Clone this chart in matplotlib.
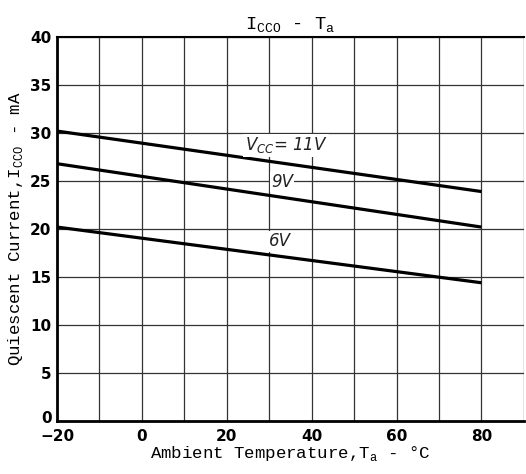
import matplotlib
matplotlib.use("Agg")
import matplotlib.pyplot as plt
import matplotlib.transforms as mtransforms

temps = [-20, 80]
icc_11v = [30.2, 23.9]
icc_9v = [26.8, 20.2]
icc_6v = [20.2, 14.4]
x_ticks = [-20, 0, 20, 40, 60, 80]
y_ticks = [0, 5, 10, 15, 20, 25, 30, 35, 40]

fig = plt.figure(figsize=(5.26, 4.74), dpi=100)
ax = fig.add_axes([0.1084, 0.1118, 0.8876, 0.8102])
ax.set_xlim(-20, 90)
ax.set_ylim(0, 40)

for v in range(-10, 91, 10):
    ax.axvline(v, color="#333333", lw=0.9, zorder=1)
for v in range(5, 41, 5):
    ax.axhline(v, color="#333333", lw=0.9, zorder=1)

for ys in (icc_11v, icc_9v, icc_6v):
    ax.plot(temps, ys, color="black", lw=2.3, zorder=3, solid_capstyle="butt")

lab = dict(fontsize=12, style="italic", family="DejaVu Sans", ha="center", va="center",
           zorder=4, fontweight="light", color="#222222")
ax.text(34, 28.7, r"$V_{CC}$= 11V", bbox=dict(facecolor="white", edgecolor="none", pad=1), **lab)
ax.text(33, 24.9, "9V", bbox=dict(facecolor="white", edgecolor="none", pad=1), **lab)
ax.text(32.5, 18.7, "6V", bbox=dict(facecolor="white", edgecolor="none", pad=1), **lab)

for s in ("left", "bottom"):
    ax.spines[s].set_linewidth(2)
ax.spines["top"].set_linewidth(1.5)
ax.spines["right"].set_visible(False)

ax.set_xticks(x_ticks)
ax.set_yticks(y_ticks)
ax.tick_params(length=0, labelsize=11)
ax.tick_params(axis="x", pad=6)
ax.tick_params(axis="y", pad=4)
for t in ax.get_xticklabels() + ax.get_yticklabels():
    t.set_fontweight("bold")
    t.set_family("DejaVu Sans")
# nudge the y "0" label up a little so it does not collide with "-20"
ylab0 = ax.get_yticklabels()[0]
ylab0.set_transform(ylab0.get_transform() +
                    mtransforms.ScaledTranslation(0, 3 / 72, fig.dpi_scale_trans))

ax.set_xlabel("Ambient Temperature,T$_\\mathregular{a}$ - °C", family="Liberation Mono",
              fontsize=12.5, labelpad=0)
ax.set_ylabel("Quiescent Current,I$_\\mathregular{CCO}$ - mA", family="Liberation Mono",
              fontsize=12.5, labelpad=4)
ax.set_title("I$_\\mathregular{CCO}$ - T$_\\mathregular{a}$", family="Liberation Mono",
             fontsize=13.5, pad=5)

fig.savefig("out.png", dpi=100)
